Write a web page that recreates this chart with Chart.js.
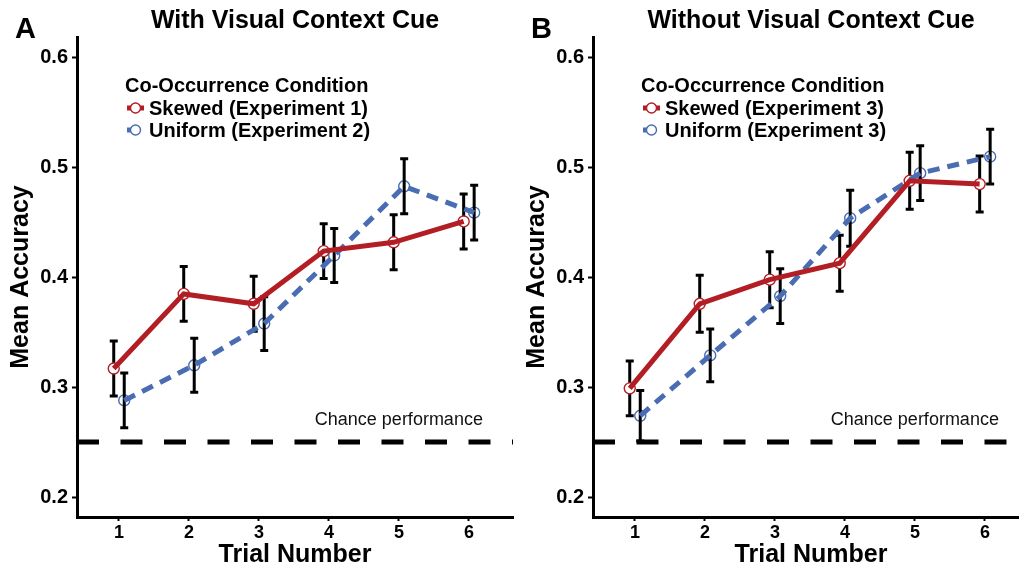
<!DOCTYPE html>
<html>
<head>
<meta charset="utf-8">
<script src="https://cdn.jsdelivr.net/npm/chart.js@4"></script>
<style>
  html, body { margin: 0; padding: 0; background: #fff; overflow: hidden; width: 1019px; height: 571px; }
  canvas { position: absolute; top: 0; }
  #chartA { left: 0; }
  #chartB { left: 516px; }
</style>
</head>
<body>
<canvas id="chartA" width="520" height="571"></canvas>
<canvas id="chartB" width="520" height="571"></canvas>
<script>
// data
const trials = [1, 2, 3, 4, 5, 6];
const yTicks = [0.2, 0.3, 0.4, 0.5, 0.6];
const chanceLevel = 0.25;

const skewedExp1 = [0.317, 0.385, 0.376, 0.424, 0.432, 0.451];
const skewedExp1Se = [0.025, 0.025, 0.025, 0.025, 0.025, 0.025];
const uniformExp2 = [0.288, 0.320, 0.358, 0.420, 0.483, 0.459];
const uniformExp2Se = [0.025, 0.0245, 0.0245, 0.0245, 0.025, 0.025];

const skewedExp3 = [0.299, 0.376, 0.398, 0.413, 0.488, 0.485];
const skewedExp3Se = [0.025, 0.026, 0.0255, 0.0255, 0.026, 0.0255];
const uniformExp3 = [0.274, 0.329, 0.383, 0.454, 0.495, 0.510];
const uniformExp3Se = [0.023, 0.024, 0.025, 0.0255, 0.025, 0.025];

const RED = '#B31E24';
const BLUE = '#4A6CB3';
const FONT = "'Liberation Sans', Arial, Helvetica, sans-serif";
const dodge = 0.075;

function drawErrorBars(chart, series) {
  const ctx = chart.ctx;
  const x = chart.scales.x, y = chart.scales.y;
  ctx.save();
  ctx.strokeStyle = '#000';
  ctx.lineWidth = 3;
  series.forEach(s => {
    s.values.forEach((v, i) => {
      const px = x.getPixelForValue(trials[i] + s.shift);
      const top = y.getPixelForValue(v + s.se[i]);
      const bot = y.getPixelForValue(v - s.se[i]);
      ctx.beginPath();
      ctx.moveTo(px, top); ctx.lineTo(px, bot);
      ctx.moveTo(px - 4, top); ctx.lineTo(px + 4, top);
      ctx.moveTo(px - 4, bot); ctx.lineTo(px + 4, bot);
      ctx.stroke();
    });
  });
  ctx.restore();
}

const panelDecor = {
  id: 'panelDecor',
  beforeDatasetsDraw(chart) {
    const {ctx, chartArea: a} = chart;
    const yy = chart.scales.y.getPixelForValue(chanceLevel);
    ctx.save();
    ctx.strokeStyle = '#000';
    ctx.lineWidth = 5;
    ctx.setLineDash([22, 21.5]);
    ctx.beginPath();
    ctx.moveTo(a.left, yy);
    ctx.lineTo(a.right, yy);
    ctx.stroke();
    ctx.restore();
  },
  beforeDatasetDraw(chart, args, opts) {
    if (args.index === 2) drawErrorBars(chart, opts.series);
  },
  afterDraw(chart, args, opts) {
    const {ctx, chartArea: a} = chart;
    const x = chart.scales.x, y = chart.scales.y;
    ctx.save();
    // panel letter
    ctx.fillStyle = '#000';
    ctx.font = 'bold 29px ' + FONT;
    ctx.textBaseline = 'alphabetic';
    ctx.textAlign = 'left';
    ctx.fillText(opts.letter, 15, 38);

    // legend
    ctx.font = 'bold 20px ' + FONT;
    ctx.textBaseline = 'middle';
    ctx.fillText('Co-Occurrence Condition', a.left + 48, 86);
    opts.series.forEach((s, i) => {
      const yy = 108 + i * 22;
      ctx.strokeStyle = s.color;
      ctx.lineWidth = 5;
      ctx.setLineDash(s.dash);
      ctx.beginPath();
      ctx.moveTo(a.left + 50, yy);
      ctx.lineTo(a.left + 67, yy);
      ctx.stroke();
      ctx.setLineDash([]);
      ctx.beginPath();
      ctx.arc(a.left + 58.5, yy, 5, 0, Math.PI * 2);
      ctx.fillStyle = '#fff';
      ctx.fill();
      ctx.lineWidth = 1.4;
      ctx.stroke();
      ctx.fillStyle = '#000';
      ctx.fillText(s.label, a.left + 72, yy + 1);
    });

    // chance label
    ctx.font = '18px ' + FONT;
    ctx.fillStyle = '#111';
    ctx.textAlign = 'right';
    ctx.fillText('Chance performance', x.getPixelForValue(6.2), y.getPixelForValue(0.27));
    ctx.restore();
  }
};

function makePanel(id, title, letter, skewed, skewedSe, uniform, uniformSe, labels) {
  const series = [
    {label: labels[0], values: skewed, se: skewedSe, shift: -dodge, color: RED, dash: []},
    {label: labels[1], values: uniform, se: uniformSe, shift: dodge, color: BLUE, dash: [12, 8]}
  ];
  const pts = s => s.values.map((v, i) => ({x: trials[i] + s.shift, y: v}));
  const lineSet = s => ({
    data: pts(s), borderColor: s.color, borderWidth: 5, borderDash: s.dash,
    pointRadius: 0, fill: false, tension: 0
  });
  const pointSet = s => ({
    data: pts(s), showLine: false, pointRadius: 5.5, pointHoverRadius: 5.5,
    pointBackgroundColor: '#fff', pointBorderColor: s.color, pointBorderWidth: 1.4
  });

  new Chart(document.getElementById(id), {
    type: 'line',
    data: {datasets: [lineSet(series[0]), lineSet(series[1]), pointSet(series[0]), pointSet(series[1])]},
    plugins: [panelDecor],
    options: {
      responsive: false,
      animation: false,
      devicePixelRatio: 1,
      layout: {padding: {left: 0, right: 7, top: 0, bottom: 0}},
      plugins: {
        legend: {display: false},
        tooltip: {enabled: false},
        title: {
          display: true, text: title, fullSize: false, color: '#000',
          font: {family: FONT, size: 25, weight: 'bold'},
          padding: {top: 6, bottom: 1}
        },
        panelDecor: {letter: letter, series: series}
      },
      scales: {
        x: {
          type: 'linear', min: 0.4, max: 6.63,
          afterBuildTicks: s => { s.ticks = trials.map(v => ({value: v})); },
          afterFit: s => { s.height = 54; },
          ticks: {color: '#000', padding: 1, font: {family: FONT, size: 18, weight: 'bold'}, callback: v => String(v)},
          grid: {drawOnChartArea: false, tickLength: 4, tickColor: '#000', tickWidth: 2},
          border: {display: true, color: '#000', width: 3},
          title: {display: true, text: 'Trial Number', color: '#000',
                  font: {family: FONT, size: 25, weight: 'bold'}, padding: {top: 0, bottom: 1}}
        },
        y: {
          min: 0.1818, max: 0.619,
          afterBuildTicks: s => { s.ticks = yTicks.map(v => ({value: v})); },
          afterFit: s => { s.width = 77; },
          ticks: {color: '#000', padding: 4, font: {family: FONT, size: 20, weight: 'bold'}, callback: v => v.toFixed(1)},
          grid: {drawOnChartArea: false, tickLength: 5, tickColor: '#000', tickWidth: 2},
          border: {display: true, color: '#000', width: 3},
          title: {display: true, text: 'Mean Accuracy', color: '#000',
                  font: {family: FONT, size: 25, weight: 'bold'}, padding: {top: 6, bottom: 0}}
        }
      }
    }
  });
}

makePanel('chartA', 'With Visual Context Cue', 'A', skewedExp1, skewedExp1Se, uniformExp2, uniformExp2Se,
  ['Skewed (Experiment 1)', 'Uniform (Experiment 2)']);
makePanel('chartB', 'Without Visual Context Cue', 'B', skewedExp3, skewedExp3Se, uniformExp3, uniformExp3Se,
  ['Skewed (Experiment 3)', 'Uniform (Experiment 3)']);
</script>
</body>
</html>
